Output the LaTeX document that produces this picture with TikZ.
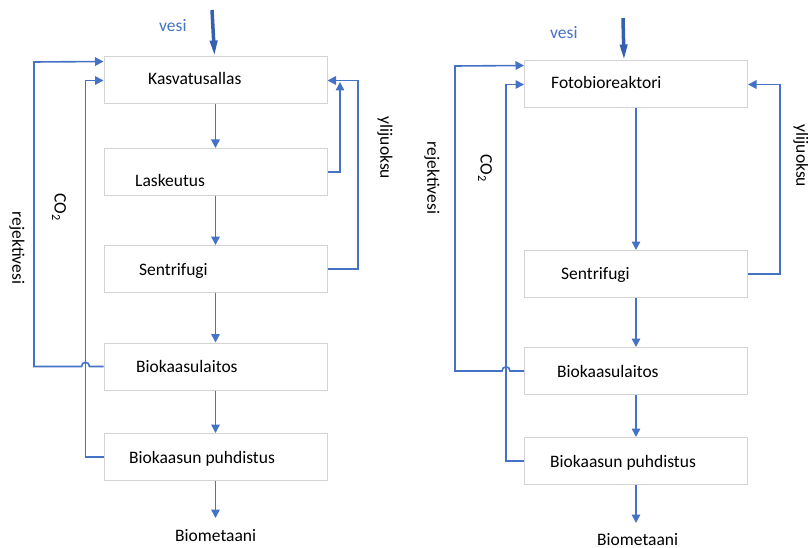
\documentclass[tikz,border=0pt]{standalone}
\usepackage{fontspec}
\setmainfont{Carlito}
\usetikzlibrary{arrows.meta}
\definecolor{lblue}{HTML}{4472C4}
\definecolor{dblue}{HTML}{3560B0}
\definecolor{boxgray}{HTML}{D3D3D3}
\begin{document}
\begin{tikzpicture}[x=1pt,y=-1pt,
  box/.style={draw=boxgray, line width=1pt, minimum width=223pt, minimum height=47pt, inner sep=0pt},
  lbl/.style={font=\fontsize{17.5}{20}\selectfont, inner sep=0pt, anchor=base west},
  rlbl/.style={font=\fontsize{17.5}{20}\selectfont, inner sep=0pt, rotate=-90},
  vlbl/.style={font=\fontsize{17.5}{20}\selectfont, inner sep=0pt, anchor=base west, text=lblue},
  flow/.style={draw=lblue, line width=1.6pt, -{Triangle[length=8.5pt,width=8.5pt]}},
  inflow/.style={draw=dblue, line width=3.5pt, -{Triangle[length=16pt,width=7pt]}}]
\useasboundingbox (0,0) rectangle (808,548);

% ---------- left diagram ----------
\node[box] (k1) at (215.5,80.5) {};
\node[box] (l1) at (215.5,172) {};
\node[box] (s1) at (215.5,269) {};
\node[box] (b1) at (215.5,366.5) {};
\node[box] (p1) at (215.5,457) {};

\node[lbl] (tk1) at (148,85) {Kasvatusallas};
\node[lbl] (tl1) at (135,186) {Laskeutus};
\node[lbl] (ts1) at (139,275) {Sentrifugi};
\node[lbl] (tb1) at (136,372) {Biokaasulaitos};
\node[lbl] (tp1) at (129,463) {Biokaasun puhdistus};
\node[lbl] (bm1) at (175,541) {Biometaani};
\node[vlbl] (vs1) at (159,32) {vesi};

\node[rlbl] (rj1) at (17,248) {rejektivesi};
\node[rlbl] (co1) at (59,207) {CO\textsubscript{2}};
\node[rlbl] (yl1) at (385,148) {ylijuoksu};

\coordinate (v1) at (212,10);
\draw[inflow] (v1) -- ([xshift=-1pt]k1.north);

\draw[flow] (k1.south) -- (l1.north);
\draw[flow] (l1.south) -- (s1.north);
\draw[flow] (s1.south) -- (b1.north);
\draw[flow] (b1.south) -- (p1.north);
\coordinate (e1) at (215.5,518);
\draw[flow] (p1.south) -- (e1);

\draw[flow] (b1.west) -- (89.5,366.5) .. controls (89.5,361) and (81.5,361) .. (81.5,366.5)
  -- (34,366.5) -- (34,62) -- ([yshift=-5pt]k1.north west);
\draw[flow] (p1.west) -- (85.5,457) -- (85.5,80.5) -- (k1.west);

\coordinate (y1) at (340,82);
\draw[flow] (l1.east) -- (l1.east -| y1) -- (y1);
\draw[flow] (s1.east) -- (358,269) -- (358,80.5) -- (k1.east);

% ---------- right diagram ----------
\node[box] (f2) at (636,84.5) {};
\node[box] (s2) at (636,274) {};
\node[box] (b2) at (636,371) {};
\node[box] (p2) at (636,461) {};

\node[lbl] (tf2) at (551,89) {Fotobioreaktori};
\node[lbl] (ts2) at (561,279) {Sentrifugi};
\node[lbl] (tb2) at (557,377) {Biokaasulaitos};
\node[lbl] (tp2) at (550,467) {Biokaasun puhdistus};
\node[lbl] (bm2) at (597,545) {Biometaani};
\node[vlbl] (vs2) at (550,39) {vesi};

\node[rlbl] (rj2) at (432,178) {rejektivesi};
\node[rlbl] (co2) at (485,168) {CO\textsubscript{2}};
\node[rlbl] (yl2) at (801,156) {ylijuoksu};

\coordinate (v2) at (623,18);
\draw[inflow] (v2) -- ([xshift=-12pt]f2.north);

\draw[flow] (f2.south) -- (s2.north);
\draw[flow] (s2.south) -- (b2.north);
\draw[flow] (b2.south) -- (p2.north);
\coordinate (e2) at (636,523);
\draw[flow] (p2.south) -- (e2);

\draw[flow] (b2.west) -- (510,371) .. controls (510,365.5) and (502,365.5) .. (502,371)
  -- (455,371) -- (455,66) -- ([yshift=-5pt]f2.north west);
\draw[flow] (p2.west) -- (506,461) -- (506,84.5) -- (f2.west);
\draw[flow] (s2.east) -- (780,274) -- (780,84.5) -- (f2.east);
\end{tikzpicture}
\end{document}
